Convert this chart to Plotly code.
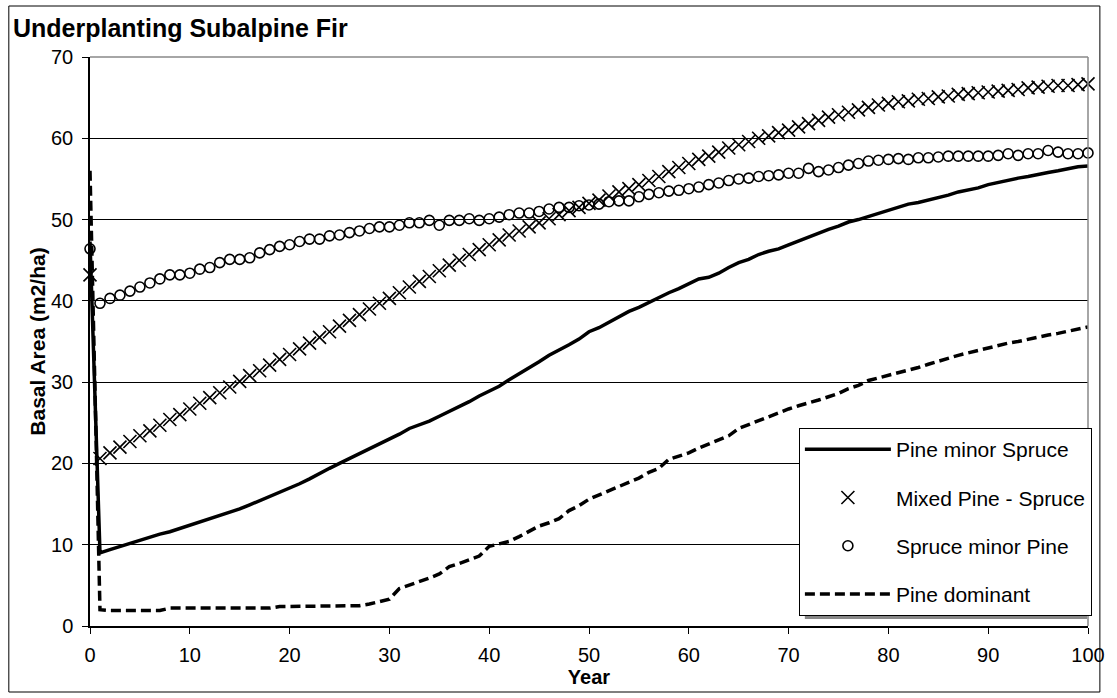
import plotly.graph_objects as go

years = list(range(0, 101))

pine_minor_spruce = [
    47.3, 9.0, 9.4, 9.8, 10.2, 10.6, 10.9, 11.3, 11.6, 12.0,
    12.4, 12.7, 13.1, 13.5, 13.9, 14.4, 14.9, 15.4, 15.9, 16.4,
    17.0, 17.5, 18.1, 18.8, 19.4, 20.0, 20.6, 21.1, 21.8, 22.4,
    23.0, 23.6, 24.3, 24.7, 25.2, 25.8, 26.4, 26.9, 27.6, 28.3,
    28.9, 29.5, 30.3, 31.0, 31.7, 32.5, 33.3, 33.9, 34.6, 35.3,
    36.2, 36.7, 37.4, 38.1, 38.7, 39.2, 39.8, 40.5, 41.0, 41.5,
    42.1, 42.7, 42.9, 43.4, 44.1, 44.7, 45.1, 45.7, 46.1, 46.4,
    46.9, 47.4, 47.9, 48.4, 48.8, 49.2, 49.7, 50.0, 50.4, 50.8,
    51.1, 51.5, 51.9, 52.1, 52.4, 52.6, 53.0, 53.4, 53.6, 53.9,
    54.3, 54.6, 54.8, 55.1, 55.3, 55.6, 55.8, 56.0, 56.3, 56.5,
    56.6,
]

mixed_pine_spruce = [
    43.2, 20.6, 21.3, 22.0, 22.7, 23.4, 24.0, 24.7, 25.4, 26.0,
    26.7, 27.4, 28.1, 28.7, 29.4, 30.1, 30.8, 31.4, 32.1, 32.8,
    33.4, 34.1, 34.8, 35.5, 36.2, 36.9, 37.6, 38.3, 39.0, 39.7,
    40.3, 41.0, 41.7, 42.4, 43.0, 43.7, 44.4, 45.0, 45.7, 46.3,
    46.9, 47.5, 48.1, 48.6, 49.1, 49.6, 50.1, 50.6, 51.1, 51.5,
    52.0, 52.4, 52.9, 53.4, 53.8, 54.3, 54.8, 55.3, 55.9, 56.4,
    56.9, 57.4, 57.8, 58.3, 58.8, 59.2, 59.6, 60.0, 60.3, 60.7,
    61.0, 61.4, 61.8, 62.2, 62.6, 62.9, 63.2, 63.5, 63.8, 64.1,
    64.3, 64.5, 64.6, 64.8, 64.9, 65.1, 65.2, 65.4, 65.5, 65.6,
    65.7, 65.8, 65.9, 66.0, 66.2, 66.3, 66.4, 66.5, 66.5, 66.6,
    66.7,
]

spruce_minor_pine = [
    46.4, 39.7, 40.3, 40.7, 41.2, 41.7, 42.2, 42.7, 43.2, 43.2,
    43.4, 43.9, 44.1, 44.7, 45.1, 45.1, 45.3, 45.9, 46.3, 46.7,
    46.9, 47.3, 47.6, 47.6, 48.0, 48.1, 48.4, 48.6, 48.9, 49.1,
    49.1, 49.3, 49.6, 49.6, 49.9, 49.3, 49.9, 49.9, 50.1, 49.9,
    50.1, 50.3, 50.6, 50.8, 50.8, 51.0, 51.3, 51.5, 51.5, 51.7,
    51.8, 51.9, 52.2, 52.3, 52.3, 52.8, 53.1, 53.3, 53.5, 53.6,
    53.8, 54.0, 54.3, 54.5, 54.8, 55.0, 55.1, 55.3, 55.4, 55.5,
    55.7, 55.7, 56.3, 55.9, 56.1, 56.4, 56.7, 56.9, 57.2, 57.3,
    57.4, 57.5, 57.4, 57.6, 57.6, 57.7, 57.8, 57.8, 57.8, 57.8,
    57.8, 57.9, 58.1, 57.9, 58.1, 58.1, 58.5, 58.3, 58.1, 58.1,
    58.2,
]

pine_dominant = [
    56.0, 2.0, 1.9, 1.9, 1.9, 1.9, 1.9, 1.9, 2.2, 2.2,
    2.2, 2.2, 2.2, 2.2, 2.2, 2.2, 2.2, 2.2, 2.2, 2.4,
    2.4, 2.4, 2.4, 2.4, 2.4, 2.4, 2.4, 2.5, 2.7, 3.0,
    3.3, 4.6, 5.0, 5.5, 5.9, 6.4, 7.3, 7.7, 8.2, 8.6,
    9.8, 10.1, 10.4, 11.0, 11.6, 12.3, 12.7, 13.2, 14.2, 14.8,
    15.6, 16.1, 16.6, 17.2, 17.6, 18.2, 18.9, 19.4, 20.5, 20.9,
    21.3, 21.9, 22.4, 23.0, 23.4, 24.3, 24.8, 25.3, 25.8, 26.3,
    26.7, 27.1, 27.4, 27.8, 28.2, 28.6, 29.2, 29.6, 30.2, 30.5,
    30.8, 31.2, 31.5, 31.8, 32.2, 32.6, 32.9, 33.3, 33.6, 33.9,
    34.3, 34.6, 34.8, 35.0, 35.3, 35.5, 35.8, 36.0, 36.3, 36.5,
    36.8,
]

x_ticks = [0, 10, 20, 30, 40, 50, 60, 70, 80, 90, 100]
y_ticks = [0, 10, 20, 30, 40, 50, 60, 70]

FONT = "Arial, Liberation Sans, sans-serif"

fig = go.Figure()
fig.add_trace(go.Scatter(
    x=years, y=pine_minor_spruce, mode="lines", name="Pine minor Spruce",
    line=dict(color="black", width=3.5), legendgroup="a", cliponaxis=False))
fig.add_trace(go.Scatter(
    x=years, y=mixed_pine_spruce, mode="markers", name="Mixed Pine - Spruce",
    marker=dict(symbol="x-thin-open", size=13, color="black",
                line=dict(color="black", width=1.6)),
    legendgroup="b", cliponaxis=False))
fig.add_trace(go.Scatter(
    x=years, y=spruce_minor_pine, mode="markers", name="Spruce minor Pine",
    marker=dict(symbol="circle-open", size=10, color="black",
                line=dict(color="black", width=1.6)),
    legendgroup="c", cliponaxis=False))
fig.add_trace(go.Scatter(
    x=years, y=pine_dominant, mode="lines", name="Pine dominant",
    line=dict(color="black", width=3.5, dash="10px,5px"), legendgroup="d",
    cliponaxis=False))

L, R, T, B = 90, 19, 57, 72
W, H = 1117, 698
pw, ph = W - L - R, H - T - B

def px(xp):
    return (xp - L) / pw

def py(yp):
    return (H - B - yp) / ph

shapes = [
    dict(type="rect", xref="paper", yref="paper",
         x0=px(8), x1=px(1110), y0=py(692), y1=py(6),
         line=dict(color="black", width=1), layer="below"),
    dict(type="line", xref="paper", yref="paper", x0=0, x1=1, y0=1, y1=1,
         line=dict(color="#888888", width=1.5)),
    dict(type="line", xref="paper", yref="paper", x0=1, x1=1, y0=0, y1=1,
         line=dict(color="#888888", width=1.5)),
    dict(type="rect", xref="paper", yref="paper",
         x0=px(812), x1=px(1097), y0=py(619), y1=py(434),
         fillcolor="#888888", line=dict(width=0)),
]

fig.update_layout(
    width=W, height=H,
    margin=dict(l=L, r=R, t=T, b=B),
    paper_bgcolor="white", plot_bgcolor="white",
    font=dict(family=FONT, color="black", size=20),
    title=dict(text="<b>Underplanting Subalpine Fir</b>", x=13 / W, xanchor="left",
               y=1 - 28 / H, yanchor="middle", font=dict(size=25, family=FONT)),
    xaxis=dict(range=[0, 100], tickvals=x_ticks, showgrid=False, zeroline=False,
               showline=True, linecolor="black", linewidth=1.5,
               ticks="outside", ticklen=6, tickcolor="black", tickwidth=1,
               tickfont=dict(size=20), ticklabelstandoff=4,
               title=dict(text="<b>Year</b>", font=dict(size=20), standoff=0)),
    yaxis=dict(range=[0, 70], tickvals=y_ticks, showgrid=True, gridcolor="black",
               gridwidth=1, zeroline=False,
               showline=True, linecolor="black", linewidth=1.5,
               ticks="outside", ticklen=6, tickcolor="black", tickwidth=1,
               tickfont=dict(size=20), ticklabelstandoff=5,
               title=dict(text="<b>Basal Area (m2/ha)</b>", font=dict(size=21), standoff=0)),
    legend=dict(x=px(806), y=py(428), xanchor="left", yanchor="top",
                bgcolor="white", bordercolor="black", borderwidth=1,
                font=dict(size=21, family=FONT), traceorder="grouped",
                tracegroupgap=18, itemwidth=86),
    shapes=shapes,
    showlegend=True,
)

fig.write_html("out.html")
